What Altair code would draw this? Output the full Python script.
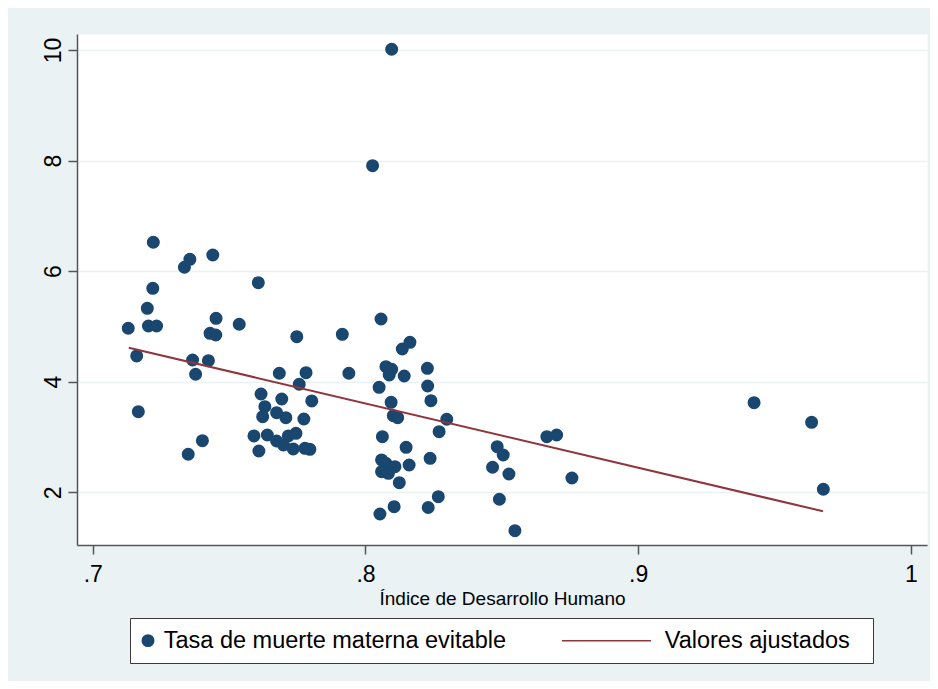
import altair as alt
import pandas as pd

# Índice de Desarrollo Humano (x) and tasa de muerte materna evitable (y)
idh = [0.7222, 0.7356, 0.7336, 0.7440, 0.7607, 0.7220, 0.7200, 0.7452, 0.7130, 0.7204,
       0.7234, 0.7537, 0.7430, 0.7451, 0.7161, 0.7366, 0.7424, 0.7377, 0.7167, 0.7402,
       0.7350, 0.7617, 0.7631, 0.7623, 0.7591, 0.7640, 0.7609, 0.7748, 0.7915, 0.8057,
       0.7684, 0.7782, 0.7939, 0.7757, 0.7693, 0.7803, 0.7674, 0.7708, 0.7774, 0.7674,
       0.7699, 0.7717, 0.7745, 0.7735, 0.7778, 0.7796, 0.8163, 0.8135, 0.8075, 0.8096,
       0.8087, 0.8142, 0.8227, 0.8050, 0.8228, 0.8094, 0.8240, 0.8102, 0.8118, 0.8298,
       0.8270, 0.8062, 0.8149, 0.8237, 0.8059, 0.8075, 0.8108, 0.8059, 0.8084, 0.8160,
       0.8124, 0.8267, 0.8230, 0.8105, 0.8053, 0.8483, 0.8505, 0.8466, 0.8526, 0.8491,
       0.8548, 0.8665, 0.8701, 0.8757, 0.9425, 0.9636, 0.9679, 0.8096, 0.8026]
tasa = [6.522, 6.214, 6.070, 6.292, 5.791, 5.690, 5.328, 5.147, 4.967, 5.008,
        5.008, 5.039, 4.876, 4.845, 4.466, 4.393, 4.381, 4.135, 3.458, 2.934,
        2.688, 3.778, 3.549, 3.368, 3.019, 3.037, 2.747, 4.815, 4.858, 5.135,
        4.153, 4.163, 4.153, 3.954, 3.688, 3.652, 3.440, 3.350, 3.326, 2.928,
        2.856, 3.019, 3.067, 2.784, 2.796, 2.778, 4.713, 4.592, 4.272, 4.225,
        4.122, 4.104, 4.243, 3.899, 3.923, 3.628, 3.657, 3.386, 3.350, 3.321,
        3.096, 3.006, 2.814, 2.615, 2.585, 2.525, 2.463, 2.373, 2.344, 2.494,
        2.174, 1.921, 1.725, 1.740, 1.608, 2.825, 2.675, 2.453, 2.331, 1.874,
        1.306, 3.006, 3.037, 2.259, 3.621, 3.266, 2.055, 10.013, 7.907]

# Valores ajustados (fitted line end points)
fit_idh = [0.7132, 0.9678]
fit_valor = [4.616, 1.657]

series = ["Tasa de muerte materna evitable", "Valores ajustados"]
x_ticks = [0.7, 0.8, 0.9, 1.0]
y_ticks = [2, 4, 6, 8, 10]

pts = pd.DataFrame({"idh": idh, "tasa": tasa, "serie": series[0]})
fit = pd.DataFrame({"idh": fit_idh, "tasa": fit_valor})

NAVY = "#1A476F"
MAROON = "#90353B"
BG = "#EAF2F3"
AXC = "#555555"
FONT = "Liberation Sans"

xscale = alt.Scale(domain=[0.69421, 1.00591], nice=False, zero=False)
yscale = alt.Scale(domain=[1.047, 10.289], nice=False, zero=False)

xaxis = alt.Axis(
    values=x_ticks,
    labelExpr="datum.value >= 0.95 ? '1' : substring(format(datum.value, '.1f'), 1)",
    title="Índice de Desarrollo Humano",
    grid=False, labelFlush=False,
    tickSize=9, labelPadding=9, labelFontSize=23, labelColor="black", labelFont=FONT,
    domainColor=AXC, tickColor=AXC, domainWidth=1.5, tickWidth=1.5,
    titleFont=FONT, titleFontSize=19, titleFontWeight="normal", titleColor="black",
    titlePadding=3,
)
yaxis = alt.Axis(
    values=y_ticks, title=None,
    labelAngle=270, labelAlign="center", labelBaseline="alphabetic",
    labelPadding=8, tickSize=9, labelFontSize=23, labelColor="black", labelFont=FONT,
    grid=True, gridColor=BG, gridWidth=1.5,
    domainColor=AXC, tickColor=AXC, domainWidth=1.5, tickWidth=1.5,
)

legend = alt.Legend(
    title=None, orient="none", legendX=53, legendY=584, direction="horizontal",
    fillColor="white", strokeColor="#3a3a3a", padding=10.5,
    labelFont=FONT, labelFontSize=23.5, labelColor="black", labelLimit=600,
    labelOffset=4.0, symbolOffset=-4.25, columnPadding=52,
    symbolSize=132, symbolStrokeWidth=1.5, symbolOpacity=1,
)

# legend symbols: filled circle for the points, a line stroke for the fit
symbols = ["circle", "M-15.14,0H0.348M36.5,0"]

points = alt.Chart(pts).mark_point(filled=True, size=132, opacity=1, strokeWidth=1.5).encode(
    x=alt.X("idh:Q", scale=xscale, axis=xaxis),
    y=alt.Y("tasa:Q", scale=yscale, axis=yaxis),
    color=alt.Color("serie:N", scale=alt.Scale(domain=series, range=[NAVY, MAROON]), legend=legend),
    stroke=alt.Stroke("serie:N", scale=alt.Scale(domain=series, range=[NAVY, MAROON]), legend=legend),
    shape=alt.Shape("serie:N", scale=alt.Scale(domain=series, range=symbols), legend=legend),
)

line = alt.Chart(fit).mark_line(color=MAROON, strokeWidth=2).encode(
    x=alt.X("idh:Q", scale=xscale),
    y=alt.Y("tasa:Q", scale=yscale),
)

chart = alt.layer(points, line).properties(
    width=850, height=511,
    autosize=alt.AutoSizeParams(type="none"),
    padding={"left": 69, "top": 26, "right": 3, "bottom": 136},
).configure(
    background=BG, font=FONT,
).configure_view(
    fill="white", stroke="transparent",
)

chart.save("out.html", embed_options={"renderer": "svg", "actions": False})
